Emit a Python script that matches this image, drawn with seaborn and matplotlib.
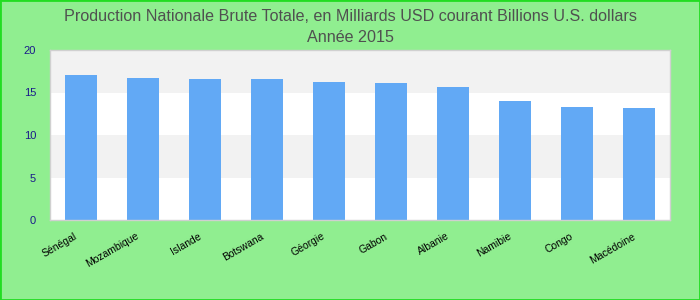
import matplotlib
matplotlib.use("Agg")
import matplotlib.pyplot as plt
import matplotlib.transforms as mtransforms
import seaborn as sns
import pandas as pd
from matplotlib.patches import Rectangle

countries = ["Sénégal", "Mozambique", "Islande", "Botswana", "Géorgie",
             "Gabon", "Albanie", "Namibie", "Congo", "Macédoine"]
values = [17.05, 16.7, 16.6, 16.6, 16.25, 16.1, 15.65, 14.0, 13.3, 13.2]
yticks = [0, 5, 10, 15, 20]
title = "Production Nationale Brute Totale, en Milliards USD courant Billions U.S. dollars\nAnnée 2015"

df = pd.DataFrame({"pays": countries, "valeur": values})

sns.set_style("white")
plt.rcParams['font.family'] = ['Liberation Sans', 'DejaVu Sans']

fig = plt.figure(figsize=(7, 3), dpi=100, facecolor="#90ee90")
fig.patches.append(Rectangle((0, 0), 1, 1, transform=fig.transFigure, fill=False,
                             edgecolor="#22dd22", linewidth=2, zorder=10))
ax = fig.add_axes([50/700, 1-220/300, 620/700, 170/300])
ax.set_facecolor("white")

# alternating bands
for i in range(len(yticks) - 1):
    if i % 2 == 1:
        ax.axhspan(yticks[i], yticks[i+1], color="#f2f2f2", zorder=0, lw=0)

sns.barplot(data=df, x="pays", y="valeur", color="#62a9f5", saturation=1,
            width=0.52, ax=ax, zorder=2, linewidth=0)

ax.set_ylim(0, 20)
ax.set_xlim(-0.5, len(countries) - 0.5)
ax.set_yticks(yticks)
ax.set_xlabel("")
ax.set_ylabel("")
ax.tick_params(axis="y", labelsize=8, labelcolor="#1a1a8a", length=0, pad=10)
ax.tick_params(axis="x", labelsize=7.5, labelcolor="black", length=0, pad=8)
offset = mtransforms.ScaledTranslation(-7/100, 0, fig.dpi_scale_trans)
for lbl in ax.get_xticklabels():
    lbl.set_rotation(30)
    lbl.set_ha("right")
    lbl.set_rotation_mode("anchor")
    lbl.set_transform(lbl.get_transform() + offset)
for s in ax.spines.values():
    s.set_edgecolor("#d0d0d0")
    s.set_linewidth(1)

fig.suptitle(title, fontsize=11.6, color="#505050", y=0.97, linespacing=1.5)

fig.savefig("out.png", dpi=100, facecolor=fig.get_facecolor())
